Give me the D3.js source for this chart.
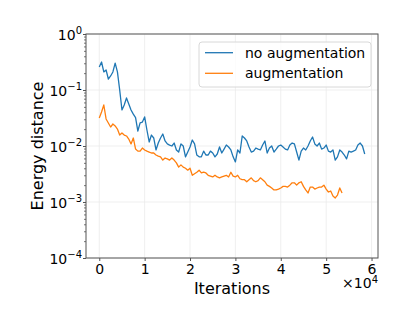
<!DOCTYPE html>
<html>
<head>
<meta charset="utf-8">
<script src="https://cdn.jsdelivr.net/npm/d3@7"></script>
<style>
  body { margin: 0; background: #fff; }
  text { font-family: "DejaVu Sans", sans-serif; fill: #000; }
</style>
</head>
<body>
<script>
var step = 500;
var noAugmentation = [
  0.257, 0.316, 0.210, 0.228, 0.157, 0.178, 0.210, 0.303, 0.210, 0.100,
  0.044, 0.054, 0.072, 0.056, 0.044, 0.037, 0.032, 0.0185, 0.0258, 0.0268,
  0.033, 0.0193, 0.0118, 0.0157, 0.0139, 0.0085, 0.0113, 0.0139, 0.0164, 0.0123,
  0.0109, 0.0104, 0.0100, 0.0113, 0.0085, 0.0078, 0.0109, 0.0100, 0.0064, 0.0078,
  0.0096, 0.0128, 0.0109, 0.0069, 0.0064, 0.0064, 0.0081, 0.0069, 0.0069, 0.0081,
  0.0075, 0.0064, 0.0072, 0.0096, 0.0075, 0.0088, 0.0104, 0.0096, 0.0085, 0.0064,
  0.0052, 0.0085, 0.0075, 0.0151, 0.0139, 0.0123, 0.0096, 0.0078, 0.0081, 0.0092,
  0.0088, 0.0085, 0.0104, 0.0123, 0.0075, 0.0092, 0.0100, 0.0078, 0.0088, 0.0100,
  0.0104, 0.0096, 0.0088, 0.0085, 0.0104, 0.0113, 0.0109, 0.0078, 0.0056, 0.0081,
  0.0092, 0.0085, 0.0100, 0.0123, 0.0145, 0.0109, 0.0100, 0.0113, 0.0088, 0.0092,
  0.0104, 0.0081, 0.0078, 0.0085, 0.0056, 0.0064, 0.0085, 0.0078, 0.0069, 0.0059,
  0.0081, 0.0078, 0.0081, 0.0085, 0.0104, 0.0113, 0.0100, 0.0072
];
var augmentation = [
  0.0316, 0.0405, 0.054, 0.0304, 0.0258, 0.0218, 0.0247, 0.0228, 0.0201, 0.0157,
  0.0171, 0.0157, 0.0151, 0.0133, 0.0109, 0.0139, 0.0088, 0.0081, 0.0081, 0.0092,
  0.0085, 0.0081, 0.0078, 0.0075, 0.0075, 0.0069, 0.0066, 0.0064, 0.0056, 0.0061,
  0.0059, 0.0056, 0.0061, 0.0056, 0.0050, 0.0042, 0.0046, 0.0042, 0.0040, 0.0037,
  0.0040, 0.0030, 0.0032, 0.0034, 0.0037, 0.0033, 0.0034, 0.0033, 0.0030, 0.0029,
  0.0028, 0.0030, 0.0028, 0.0027, 0.0028, 0.0029, 0.0030, 0.0028, 0.0034, 0.0029,
  0.0028, 0.0030, 0.0026, 0.0025, 0.0025, 0.0023, 0.0025, 0.0027, 0.0024, 0.0023,
  0.0024, 0.0027, 0.0025, 0.0023, 0.0020, 0.0019, 0.00178, 0.00164, 0.00164, 0.0017,
  0.00178, 0.0019, 0.0019, 0.00185, 0.0020, 0.0022, 0.0022, 0.0020, 0.0022, 0.0023,
  0.0019, 0.00164, 0.00145, 0.00185, 0.00185, 0.0017, 0.00178, 0.00185, 0.00185, 0.0020,
  0.0017, 0.00151, 0.00157, 0.00128, 0.00118, 0.00133, 0.00178, 0.00145
];
var seriesNames = ["no augmentation", "augmentation"];
var xTicks = [0, 10000, 20000, 30000, 40000, 50000, 60000];
var yTicks = [1e-4, 1e-3, 1e-2, 1e-1, 1];
var yTickExp = ["\u22124", "\u22123", "\u22122", "\u22121", "0"];

var width = 407, height = 326;
var pLeft = 86, pRight = 378, pTop = 34, pBottom = 258;
var colors = ["#1f77b4", "#ff7f0e"];

var svg = d3.select("body").append("svg")
    .attr("width", width)
    .attr("height", height);

var x = d3.scaleLinear().domain([-2925, 61425]).range([pLeft, pRight]);
var y = d3.scaleLog().domain([1e-4, 1]).range([pBottom, pTop]);

/* grid */
svg.append("g").selectAll("line").data(xTicks).enter().append("line")
    .attr("x1", d => x(d)).attr("x2", d => x(d))
    .attr("y1", pTop).attr("y2", pBottom)
    .attr("stroke", "#ebebeb").attr("stroke-width", 0.8);
svg.append("g").selectAll("line").data(yTicks).enter().append("line")
    .attr("x1", pLeft).attr("x2", pRight)
    .attr("y1", d => y(d)).attr("y2", d => y(d))
    .attr("stroke", "#ebebeb").attr("stroke-width", 0.8);

/* lines */
var line = d3.line()
    .x((d, i) => x(i * step))
    .y(d => y(d));

[noAugmentation, augmentation].forEach(function(s, k){
    svg.append("path")
	.datum(s)
	.attr("fill", "none")
	.attr("stroke", colors[k])
	.attr("stroke-width", 1.3)
	.attr("stroke-linejoin", "round")
	.attr("d", line);
});

/* axes */
var xAxis = svg.append("g")
    .attr("transform", "translate(0," + pBottom + ")")
    .call(d3.axisBottom(x).tickValues(xTicks).tickSize(3).tickPadding(3)
	  .tickFormat(d => d / 10000));
xAxis.select(".domain").remove();
xAxis.selectAll("line").attr("stroke", "#555");
xAxis.selectAll("text")
    .style("font-size", "14px")
    .style("font-family", "DejaVu Sans");

var yMinor = [];
yTicks.slice(0, 4).forEach(function(t){
    for (var m = 2; m < 10; m++) yMinor.push(t * m);
});
var yAxisMinor = svg.append("g")
    .attr("transform", "translate(" + pLeft + ",0)")
    .call(d3.axisLeft(y).tickValues(yMinor).tickSize(2).tickFormat(""));
yAxisMinor.select(".domain").remove();
yAxisMinor.selectAll("line").attr("stroke", "#777");

var yAxis = svg.append("g")
    .attr("transform", "translate(" + pLeft + ",0)")
    .call(d3.axisLeft(y).tickValues(yTicks).tickSize(3).tickFormat(""));
yAxis.select(".domain").remove();
yAxis.selectAll("line").attr("stroke", "#555");
yAxis.selectAll(".tick").each(function(d, i){
    var t = d3.select(this).append("text")
	.attr("x", -4)
	.attr("dy", "0.36em")
	.attr("text-anchor", "end")
	.style("font-size", "14px")
	.style("fill", "#000");
    t.append("tspan").text("10");
    t.append("tspan")
	.attr("dy", "-0.55em")
	.style("font-size", "10px")
	.text(yTickExp[i]);
});

/* frame */
svg.append("rect")
    .attr("x", pLeft).attr("y", pTop)
    .attr("width", pRight - pLeft).attr("height", pBottom - pTop)
    .attr("fill", "none")
    .attr("stroke", "#555")
    .attr("stroke-width", 1);

/* labels */
svg.append("text")
    .attr("x", (pLeft + pRight) / 2)
    .attr("y", 294)
    .attr("text-anchor", "middle")
    .style("font-size", "16px")
    .text("Iterations");

svg.append("text")
    .attr("transform", "translate(43," + ((pTop + pBottom) / 2) + ") rotate(-90)")
    .attr("text-anchor", "middle")
    .style("font-size", "16px")
    .text("Energy distance");

var mult = svg.append("text")
    .attr("x", pRight)
    .attr("y", 288)
    .attr("text-anchor", "end")
    .style("font-size", "14px");
mult.append("tspan").text("\u00d710");
mult.append("tspan").attr("dy", "-0.55em").style("font-size", "10px").text("4");

/* legend */
var legend = svg.append("g");
legend.append("rect")
    .attr("x", 199).attr("y", 42)
    .attr("width", 172).attr("height", 45)
    .attr("rx", 3)
    .attr("fill", "#fff").attr("fill-opacity", 0.8)
    .attr("stroke", "#d8d8d8");
seriesNames.forEach(function(name, k){
    var ly = 52.7 + k * 20.6;
    legend.append("line")
	.attr("x1", 205).attr("x2", 233)
	.attr("y1", ly).attr("y2", ly)
	.attr("stroke", colors[k]).attr("stroke-width", 1.3);
    legend.append("text")
	.attr("x", 245).attr("y", ly + 5)
	.style("font-size", "14px")
	.text(name);
});
</script>
</body>
</html>
